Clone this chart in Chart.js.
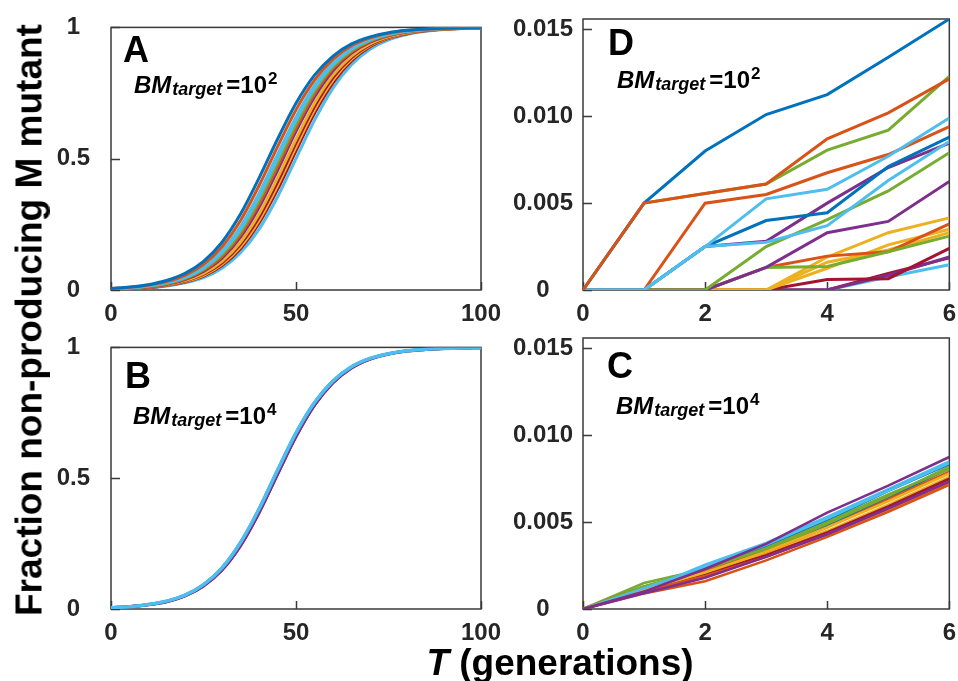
<!DOCTYPE html>
<html>
<head>
<meta charset="utf-8">
<script src="https://cdn.jsdelivr.net/npm/chart.js@4.4.1/dist/chart.umd.min.js"></script>
<style>
body { margin: 0; background: #fff; width: 958px; height: 681px; position: relative; overflow: hidden; font-family: 'Liberation Sans', Arial, sans-serif; }
canvas { position: absolute; }
.lab { position: absolute; font-weight: bold; font-size: 37px; line-height: 37px; white-space: nowrap; color: #000; }
</style>
</head>
<body>
<canvas id="chartA" width="520" height="330" style="left:0;top:0"></canvas>
<canvas id="chartB" width="520" height="330" style="left:0;top:320px"></canvas>
<canvas id="chartD" width="463" height="330" style="left:495px;top:0"></canvas>
<canvas id="chartC" width="463" height="330" style="left:495px;top:320px"></canvas>
<div class="lab" style="left:29px;top:320px;transform:translate(-50%,-50%) rotate(-90deg)">Fraction non-producing M mutant</div>
<div class="lab" style="left:560px;top:662px;transform:translate(-50%,-50%)"><i>T</i> (generations)</div>
<script>
// MATLAB colour order
const BLUE = '#0072BD', ORANGE = '#D95319', YELLOW = '#EDB120', PURPLE = '#7E2F8E',
      GREEN = '#77AC30', LBLUE = '#4DBEEE', DRED = '#A2142F';

// generations sampled for the long runs (A, B) and the short runs (D, C)
const tLong = [0,5,10,15,20,25,30,35,40,45,50,55,60,65,70,75,80,85,90,95,100];
const tShort = [0,1,2,3,4,5,6];

// tick values and labels
const xTicksLong = [0, 50, 100];
const yTicksLong = [0, 0.5, 1];
const yLabelsLong = ['0', '0.5', '1'];
const xTicksShort = [0, 2, 4, 6];
const yTicksShort = [0, 0.005, 0.010, 0.015];
const yLabelsShort = ['0', '0.005', '0.010', '0.015'];

// Panel A (BM_target = 10^2), left edge of band first
const fracA1 = [0.006,0.011,0.020,0.036,0.063,0.109,0.182,0.289,0.426,0.574,0.711,0.818,0.891,0.937,0.964,0.980,0.989,0.994,0.997,0.998,0.999];
const fracA2 = [0.005,0.010,0.018,0.032,0.056,0.098,0.165,0.265,0.397,0.545,0.686,0.799,0.879,0.930,0.960,0.978,0.988,0.993,0.996,0.998,0.999];
const fracA3 = [0.005,0.009,0.016,0.028,0.050,0.088,0.149,0.242,0.368,0.515,0.659,0.779,0.865,0.921,0.955,0.975,0.986,0.992,0.996,0.998,0.999];
const fracA4 = [0.004,0.008,0.015,0.027,0.047,0.083,0.142,0.231,0.354,0.500,0.646,0.769,0.858,0.917,0.953,0.973,0.985,0.992,0.996,0.998,0.999];
const fracA5 = [0.004,0.008,0.014,0.025,0.045,0.079,0.135,0.221,0.341,0.485,0.632,0.758,0.851,0.912,0.950,0.972,0.984,0.991,0.995,0.997,0.999];
const fracA6 = [0.004,0.007,0.013,0.024,0.042,0.075,0.128,0.211,0.327,0.470,0.618,0.747,0.843,0.907,0.947,0.970,0.983,0.991,0.995,0.997,0.998];
const fracA7 = [0.004,0.007,0.012,0.022,0.040,0.071,0.121,0.201,0.314,0.455,0.604,0.735,0.835,0.902,0.944,0.968,0.982,0.990,0.995,0.997,0.998];
const fracA8 = [0.003,0.006,0.011,0.020,0.036,0.063,0.109,0.182,0.289,0.426,0.574,0.711,0.818,0.891,0.937,0.964,0.980,0.989,0.994,0.997,0.998];
const fracA9 = [0.003,0.006,0.010,0.019,0.034,0.060,0.103,0.174,0.277,0.411,0.560,0.699,0.809,0.885,0.933,0.962,0.979,0.988,0.994,0.996,0.998];
const fracA10 = [0.003,0.005,0.010,0.018,0.032,0.056,0.098,0.165,0.265,0.397,0.545,0.686,0.799,0.879,0.930,0.960,0.978,0.988,0.993,0.996,0.998];
const fracA11 = [0.003,0.005,0.009,0.017,0.030,0.053,0.093,0.157,0.254,0.382,0.530,0.673,0.789,0.872,0.926,0.958,0.976,0.987,0.993,0.996,0.998];
const fracA12 = [0.002,0.004,0.008,0.015,0.027,0.047,0.083,0.142,0.231,0.354,0.500,0.646,0.769,0.858,0.917,0.953,0.973,0.985,0.992,0.996,0.998];
const colorsA = [BLUE, ORANGE, LBLUE, LBLUE, GREEN, ORANGE, PURPLE, YELLOW, DRED, YELLOW, DRED, LBLUE];

// Panel B (BM_target = 10^4), top line first
const fracB1 = [0.005,0.009,0.017,0.030,0.053,0.093,0.157,0.254,0.382,0.530,0.673,0.789,0.872,0.926,0.958,0.976,0.987,0.993,0.996,0.998,0.999];
const fracB2 = [0.005,0.009,0.017,0.030,0.053,0.093,0.157,0.254,0.382,0.530,0.673,0.789,0.872,0.926,0.958,0.976,0.987,0.993,0.996,0.998,0.999];
const fracB3 = [0.005,0.009,0.016,0.028,0.050,0.088,0.149,0.242,0.368,0.515,0.659,0.779,0.865,0.921,0.955,0.975,0.986,0.992,0.996,0.998,0.999];
const fracB4 = [0.005,0.009,0.016,0.028,0.050,0.088,0.149,0.242,0.368,0.515,0.659,0.779,0.865,0.921,0.955,0.975,0.986,0.992,0.996,0.998,0.999];
const colorsB = [LBLUE, BLUE, PURPLE, DRED];

// Panel D (BM_target = 10^2), listed bottom layer first
const fracD1 = [0,0,0,0,0,0.00075,0.00145];
const fracD2 = [0,0,0,0,0,0.00095,0.00185];
const fracD3 = [0,0,0,0,0,0.00085,0.0019];
const fracD4 = [0,0,0,0,0.0006,0.00065,0.0024];
const fracD5 = [0,0,0,0,0.0016,0.0023,0.0033];
const fracD6 = [0,0,0,0,0.00125,0.0026,0.0035];
const fracD7 = [0,0,0,0,0.0019,0.0033,0.00415];
const fracD8 = [0,0,0,0.0013,0.00195,0.0022,0.0038];
const fracD9 = [0,0,0,0.0013,0.00135,0.0022,0.0031];
const fracD10 = [0,0,0,0.0013,0.0033,0.00395,0.00625];
const fracD11 = [0,0,0,0.0025,0.00405,0.0057,0.0079];
const fracD12 = [0,0,0.0025,0.0028,0.0050,0.00705,0.00845];
const fracD13 = [0,0,0.0025,0.0040,0.00445,0.0071,0.0088];
const fracD14 = [0,0,0.0050,0.0055,0.00675,0.0078,0.0094];
const fracD15 = [0,0,0.0025,0.00275,0.0037,0.0063,0.00855];
const fracD16 = [0,0,0.0025,0.00525,0.0058,0.0077,0.0099];
const fracD17 = [0,0.0050,0.00555,0.0061,0.00805,0.0092,0.0123];
const fracD18 = [0,0.0050,0.0080,0.0101,0.01125,0.0134,0.0156];
const fracD19 = [0,0.0050,0.00555,0.0061,0.0087,0.0102,0.01215];
const colorsD = [LBLUE, DRED, PURPLE, DRED, YELLOW, YELLOW, YELLOW, ORANGE, GREEN, PURPLE,
                 GREEN, PURPLE, BLUE, ORANGE, LBLUE, LBLUE, GREEN, BLUE, ORANGE];

// Panel C (BM_target = 10^4), listed bottom layer first
const fracC1 = [0,0.0011,0.0022,0.0034,0.0048,0.0064,0.0081];
const fracC2 = [0,0.0009,0.0016,0.0028,0.00415,0.0056,0.00715];
const fracC3 = [0,0.0010,0.0020,0.0032,0.0045,0.0060,0.0076];
const fracC4 = [0,0.0015,0.0023,0.0034,0.0049,0.0065,0.0082];
const fracC5 = [0,0.0011,0.00255,0.0038,0.0053,0.0069,0.0085];
const fracC6 = [0,0.0010,0.0020,0.0031,0.0044,0.0059,0.0075];
const fracC7 = [0,0.0012,0.0023,0.0036,0.0051,0.0068,0.00835];
const fracC8 = [0,0.0013,0.0022,0.0033,0.0047,0.0063,0.0079];
const fracC9 = [0,0.0011,0.0021,0.0033,0.0047,0.0062,0.0078];
const fracC10 = [0,0.0013,0.0023,0.0035,0.0050,0.0066,0.00805];
const fracC11 = [0,0.0012,0.0024,0.0037,0.0052,0.0068,0.0084];
const fracC12 = [0,0.0010,0.0019,0.0030,0.0043,0.00575,0.0073];
const fracC13 = [0,0.0009,0.0018,0.0030,0.0043,0.0058,0.00735];
const fracC14 = [0,0.0010,0.0023,0.00375,0.00555,0.0071,0.00875];
const colorsC = [BLUE, ORANGE, YELLOW, GREEN, LBLUE, DRED, BLUE, ORANGE, YELLOW, GREEN, LBLUE, ORANGE, PURPLE, PURPLE];

const FAM = "'Liberation Sans', Arial, sans-serif";

// axes box and inward ticks, drawn under the lines
const frameTicksPlugin = {
  id: 'frameTicks',
  beforeDatasetsDraw(chart) {
    const { ctx, chartArea: a, scales: { x, y } } = chart;
    ctx.save();
    ctx.strokeStyle = '#3a3a3a';
    ctx.lineWidth = 1.5;
    ctx.strokeRect(a.left, a.top, a.right - a.left, a.bottom - a.top);
    ctx.beginPath();
    x.ticks.forEach(t => {
      const px = Math.round(x.getPixelForValue(t.value)) + 0.5;
      ctx.moveTo(px, a.bottom); ctx.lineTo(px, a.bottom - 8);
    });
    y.ticks.forEach(t => {
      const py = Math.round(y.getPixelForValue(t.value)) + 0.5;
      ctx.moveTo(a.left, py); ctx.lineTo(a.left + 9, py);
    });
    ctx.stroke();
    ctx.restore();
  }
};

// panel letter and BM_target annotation
const panelTextPlugin = {
  id: 'panelText',
  afterDraw(chart, args, opts) {
    const { ctx, chartArea: a } = chart;
    ctx.save();
    ctx.fillStyle = '#000';
    ctx.textAlign = 'left';
    ctx.textBaseline = 'alphabetic';
    ctx.font = `bold 36px ${FAM}`;
    ctx.fillText(opts.letter, a.left + opts.lx, a.top + opts.ly);
    let x = a.left + opts.bx;
    const y = a.top + opts.by;
    ctx.font = `italic bold 24px ${FAM}`;
    ctx.fillText('BM', x, y);
    x += ctx.measureText('BM').width + 1;
    ctx.font = `italic bold 18px ${FAM}`;
    ctx.fillText('target', x, y + 2);
    x += ctx.measureText('target').width + 4;
    ctx.font = `bold 24px ${FAM}`;
    ctx.fillText('=10', x, y);
    x += ctx.measureText('=10').width;
    ctx.font = `bold 17px ${FAM}`;
    ctx.fillText(opts.exp, x + 1, y - 9);
    ctx.restore();
  }
};

function makePanel(id, cfg) {
  let datasets = cfg.series.map((vals, i) => ({
    data: cfg.t.map((t, j) => ({ x: t, y: vals[j] })),
    borderColor: cfg.colors[i],
    borderWidth: cfg.widths ? cfg.widths[i] : cfg.lineWidth,
    pointRadius: 0,
    fill: false,
    tension: 0,
    cubicInterpolationMode: cfg.smooth ? 'monotone' : 'default'
  }));
  // Chart.js paints dataset 0 on top; the short-run lists are bottom-first
  if (cfg.bottomFirst) datasets = datasets.reverse();

  const tickFont = { family: FAM, size: 24, weight: 'bold' };
  return new Chart(document.getElementById(id), {
    type: 'line',
    data: { datasets },
    options: {
      responsive: false,
      animation: false,
      events: [],
      layout: { padding: cfg.padding, autoPadding: false },
      plugins: {
        legend: { display: false },
        tooltip: { enabled: false },
        panelText: cfg.text
      },
      scales: {
        x: {
          type: 'linear',
          min: cfg.xMin, max: cfg.xMax,
          grid: { display: false },
          border: { display: false },
          ticks: { color: '#262626', font: tickFont, padding: 2, maxRotation: 0, autoSkip: false,
                   callback: (v) => String(v) },
          afterBuildTicks: (s) => { s.ticks = cfg.xTicks.map(v => ({ value: v })); },
          afterFit: (s) => { s.height = cfg.xAxisH; }
        },
        y: {
          type: 'linear',
          min: 0, max: cfg.yMax,
          grid: { display: false },
          border: { display: false },
          ticks: { color: '#262626', font: tickFont, padding: cfg.yPad, crossAlign: 'center', autoSkip: false,
                   callback: (v, i) => cfg.yLabels[i] },
          afterBuildTicks: (s) => { s.ticks = cfg.yTicks.map(v => ({ value: v })); },
          afterFit: (s) => { s.width = cfg.yAxisW; }
        }
      }
    },
    plugins: [frameTicksPlugin, panelTextPlugin]
  });
}

makePanel('chartA', {
  t: tLong, smooth: true, lineWidth: 3,
  series: [fracA1, fracA2, fracA3, fracA4, fracA5, fracA6, fracA7, fracA8, fracA9, fracA10, fracA11, fracA12],
  colors: colorsA,
  xMin: 0, xMax: 100, yMax: 1,
  xTicks: xTicksLong, yTicks: yTicksLong, yLabels: yLabelsLong,
  padding: { top: 20, right: 39, bottom: 0, left: 0 },
  yAxisW: 111, xAxisH: 40, yPad: 13,
  text: { letter: 'A', lx: 12, ly: 35, bx: 23, by: 66, exp: '2' }
});

makePanel('chartB', {
  t: tLong, smooth: true, widths: [3.5, 3, 3, 3],
  series: [fracB1, fracB2, fracB3, fracB4],
  colors: colorsB,
  xMin: 0, xMax: 100, yMax: 1,
  xTicks: xTicksLong, yTicks: yTicksLong, yLabels: yLabelsLong,
  padding: { top: 17, right: 39, bottom: 0, left: 0 },
  yAxisW: 111, xAxisH: 41, yPad: 13,
  text: { letter: 'B', lx: 14, ly: 41, bx: 22, by: 77, exp: '4' }
});

makePanel('chartD', {
  t: tShort, smooth: false, lineWidth: 3, bottomFirst: true,
  series: [fracD1, fracD2, fracD3, fracD4, fracD5, fracD6, fracD7, fracD8, fracD9, fracD10,
           fracD11, fracD12, fracD13, fracD14, fracD15, fracD16, fracD17, fracD18, fracD19],
  colors: colorsD,
  xMin: 0, xMax: 6, yMax: 0.0156,
  xTicks: xTicksShort, yTicks: yTicksShort, yLabels: yLabelsShort,
  padding: { top: 19, right: 6, bottom: 0, left: 0 },
  yAxisW: 88, xAxisH: 40, yPad: 2,
  text: { letter: 'D', lx: 25, ly: 36, bx: 34, by: 69, exp: '2' }
});

makePanel('chartC', {
  t: tShort, smooth: false, lineWidth: 2.6, bottomFirst: true,
  series: [fracC1, fracC2, fracC3, fracC4, fracC5, fracC6, fracC7, fracC8, fracC9, fracC10,
           fracC11, fracC12, fracC13, fracC14],
  colors: colorsC,
  xMin: 0, xMax: 6, yMax: 0.0156,
  xTicks: xTicksShort, yTicks: yTicksShort, yLabels: yLabelsShort,
  padding: { top: 18, right: 6, bottom: 0, left: 0 },
  yAxisW: 88, xAxisH: 41, yPad: 2,
  text: { letter: 'C', lx: 24, ly: 40, bx: 33, by: 76, exp: '4' }
});
</script>
</body>
</html>
